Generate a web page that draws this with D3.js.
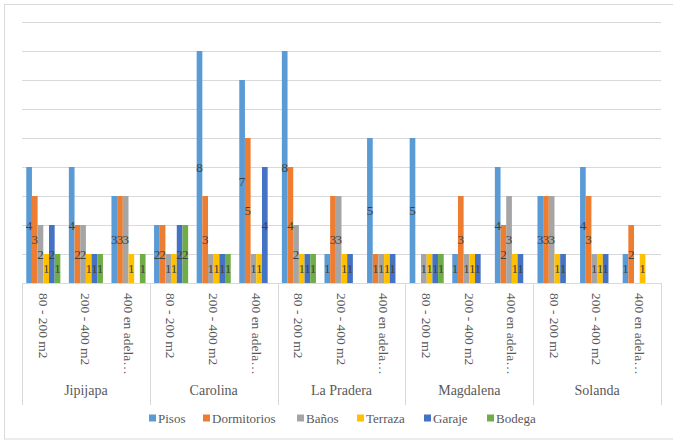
<!DOCTYPE html>
<html>
<head>
<meta charset="utf-8">
<script src="https://cdn.jsdelivr.net/npm/d3@7"></script>
<style>
  html, body { margin: 0; padding: 0; background: #fff; }
  svg { display: block; }
  #chart text { font-family: "Liberation Serif", "DejaVu Serif", serif !important; }
</style>
</head>
<body>
<svg id="chart" width="673" height="441"></svg>
<script>
// Neighbourhoods and lot-size ranges along the two-level category axis
const groups = ["Jipijapa", "Carolina", "La Pradera", "Magdalena", "Solanda"];
const sizes = ["80 - 200 m2", "200 - 400 m2", "400 en adela…"];

// Series (null = no bar)
const seriesNames = ["Pisos", "Dormitorios", "Baños", "Terraza", "Garaje", "Bodega"];
const colors = ["#5B9BD5", "#ED7D31", "#A5A5A5", "#FFC000", "#4472C4", "#70AD47"];

// One entry per category, in order Jipijapa 80-200 ... Solanda 400+
const pisos       = [4, 4, 3,   2, 8, 7,   8, 1, 5,   5, 1, 4,   3, 4, 1];
const dormitorios = [3, 2, 3,   2, 3, 5,   4, 3, 1,   null, 3, 2,   3, 3, 2];
const banos       = [2, 2, 3,   1, 1, 1,   2, 3, 1,   1, 1, 3,   3, 1, null];
const terraza     = [1, 1, 1,   1, 1, 1,   1, 1, 1,   1, 1, 1,   1, 1, 1];
const garaje      = [2, 1, null, 2, 1, 4,  1, 1, 1,   1, 1, 1,   1, 1, null];
const bodega      = [1, 1, 1,   2, 1, null, 1, null, null, 1, null, null, null, null, null];

const seriesValues = [pisos, dormitorios, banos, terraza, garaje, bodega];
const yMax = 9;
const yTicks = d3.range(0, yMax + 1);

const categories = [];
groups.forEach(g => sizes.forEach(s => categories.push({ key: g + "|" + s, group: g, size: s })));

const svg = d3.select("#chart");

// chart area outline
svg.append("rect")
  .attr("x", 4.5).attr("y", 4.5)
  .attr("width", 672).attr("height", 434.5)
  .attr("fill", "none").attr("stroke", "#D9D9D9").attr("stroke-width", 1);

const plot = { left: 22, right: 661, top: 22, bottom: 283 };

const x = d3.scaleBand()
  .domain(categories.map(c => c.key))
  .range([plot.left, plot.right])
  .paddingInner(0.2)
  .paddingOuter(0.1);

const xs = d3.scaleBand()
  .domain(seriesNames)
  .range([0, x.bandwidth()]);

const y = d3.scaleLinear().domain([0, yMax]).range([plot.bottom, plot.top]);

// horizontal gridlines
svg.append("g")
  .selectAll("line")
  .data(yTicks.filter(t => t > 0))
  .join("line")
  .attr("x1", plot.left).attr("x2", plot.right)
  .attr("y1", d => Math.round(y(d)) + 0.5).attr("y2", d => Math.round(y(d)) + 0.5)
  .attr("stroke", "#D9D9D9").attr("stroke-width", 1);

// bars
const barsG = svg.append("g");
seriesNames.forEach((name, si) => {
  const data = categories.map((c, i) => ({ cat: c.key, v: seriesValues[si][i] })).filter(d => d.v != null);
  barsG.append("g")
    .selectAll("rect")
    .data(data)
    .join("rect")
    .attr("x", d => x(d.cat) + xs(name))
    .attr("width", xs.bandwidth())
    .attr("y", d => y(d.v))
    .attr("height", d => y(0) - y(d.v))
    .attr("fill", colors[si]);
});

// value labels, centred inside each bar
const labelsG = svg.append("g");
seriesNames.forEach((name, si) => {
  const data = categories.map((c, i) => ({ cat: c.key, v: seriesValues[si][i] })).filter(d => d.v != null);
  labelsG.append("g")
    .selectAll("text")
    .data(data)
    .join("text")
    .attr("x", d => x(d.cat) + xs(name) + xs.bandwidth() / 2)
    .attr("y", d => y(d.v / 2))
    .attr("dy", "0.35em")
    .attr("text-anchor", "middle")
    .style("font-size", "13px")
    .style("fill", "#404040")
    .text(d => d.v);
});

// baseline axis
svg.append("line")
  .attr("x1", plot.left).attr("x2", plot.right)
  .attr("y1", plot.bottom + 0.5).attr("y2", plot.bottom + 0.5)
  .attr("stroke", "#D9D9D9");

// group separators on the category axis
const step = x.step();
const groupEdges = d3.range(0, groups.length + 1).map(i => {
  if (i === groups.length) return plot.right;
  return x(categories[i * sizes.length].key) - x.paddingOuter() * step;
});
svg.append("g")
  .selectAll("line")
  .data(groupEdges)
  .join("line")
  .attr("x1", d => Math.round(d) + 0.5).attr("x2", d => Math.round(d) + 0.5)
  .attr("y1", plot.bottom).attr("y2", 405)
  .attr("stroke", "#D9D9D9");

// rotated lot-size labels
svg.append("g")
  .selectAll("text")
  .data(categories)
  .join("text")
  .attr("transform", d => `translate(${x(d.key) + x.bandwidth() / 2},293) rotate(90)`)
  .attr("dy", "0.35em")
  .attr("text-anchor", "start")
  .style("font-size", "13.5px")
  .style("fill", "#595959")
  .text(d => d.size);

// neighbourhood labels
svg.append("g")
  .selectAll("text")
  .data(groups)
  .join("text")
  .attr("x", (d, i) => (groupEdges[i] + groupEdges[i + 1]) / 2)
  .attr("y", 390)
  .attr("dy", "0.35em")
  .attr("text-anchor", "middle")
  .style("font-size", "14px")
  .style("fill", "#595959")
  .text(d => d);

// legend
const legendX = [149, 203, 297, 357, 424, 487];
const legend = svg.append("g").selectAll("g")
  .data(seriesNames)
  .join("g")
  .attr("transform", (d, i) => `translate(${legendX[i]},418)`);
legend.append("rect")
  .attr("x", 0).attr("y", -3.5).attr("width", 7).attr("height", 7)
  .attr("fill", (d, i) => colors[i]);
legend.append("text")
  .attr("x", 9).attr("y", 0).attr("dy", "0.35em")
  .style("font-size", "13px")
  .style("fill", "#595959")
  .text(d => d);
</script>
</body>
</html>
